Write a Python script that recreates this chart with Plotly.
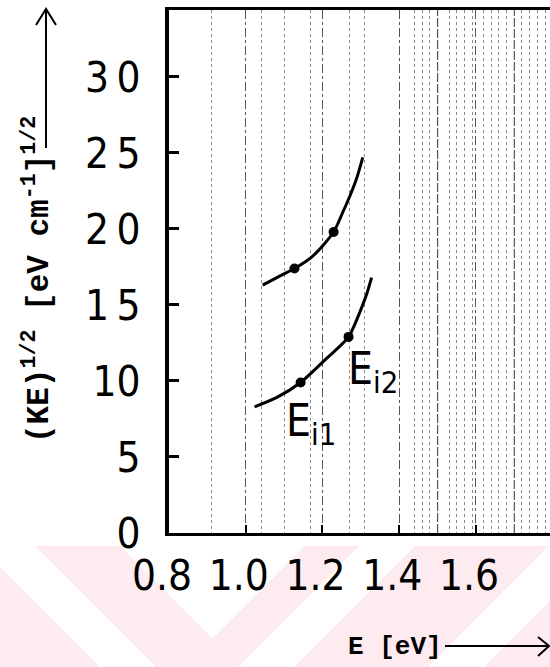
import plotly.graph_objects as go

# --- data: photo-ionisation threshold curves, E [eV] vs (KE)^1/2 ---
upper_e = [1.044, 1.088, 1.127, 1.174, 1.229, 1.253, 1.272, 1.290, 1.305]
upper_k = [16.3, 16.9, 17.4, 18.2, 19.8, 21.1, 22.2, 23.4, 24.7]
lower_e = [1.023, 1.080, 1.143, 1.201, 1.268, 1.297, 1.315, 1.328]
lower_k = [8.3, 8.9, 9.9, 11.25, 12.9, 14.5, 15.7, 16.8]

# measured points marked on each curve
upper_pts_e = [1.127, 1.229]
upper_pts_k = [17.4, 19.8]
lower_pts_e = [1.143, 1.268]
lower_pts_k = [9.9, 12.9]

# curve labels: (text, E, KE^1/2)
curve_labels = [("E<sub>i1</sub>", 1.099, 7.2), ("E<sub>i2</sub>", 1.262, 10.6)]

x_ticks = [0.8, 1.0, 1.2, 1.4, 1.6]
x_tick_text = ["0.8", "1.0", "1.2", "1.4", "1.6"]
y_ticks = [0, 5, 10, 15, 20, 25, 30]
y_tick_text = ["0", "5", "10", "1\u20095", "2\u20090", "2\u20095", "3\u20090"]

# graph-paper rulings
fine_rules = [0.91, 1.04, 1.10, 1.17, 1.27, 1.31, 1.44, 1.46, 1.48, 1.53, 1.55,
              1.57, 1.59, 1.62, 1.64, 1.66, 1.68, 1.72, 1.74, 1.76, 1.78]
heavy_rules = [1.5, 1.7]

X_RANGE = [0.8, 1.793]
Y_RANGE = [0, 34.4]

W, H = 550, 667
L, T, R, B = 169, 10, 550, 533

DIN = "Liberation Sans Narrow, DejaVu Sans Condensed, Arial Narrow, sans-serif"
MONO = "Liberation Mono, Courier New, monospace"


def fx(x):
    return (x - L) / (R - L)


def fy(y):
    return (B - y) / (B - T)


def path(points, close=False):
    s = "M " + " L ".join(f"{fx(x):.5f},{fy(y):.5f}" for x, y in points)
    return s + (" Z" if close else "")


shapes = []

# faint pink watermark band along the bottom of the page
pink = "#fdebef"
shapes.append(dict(type="rect", xref="paper", yref="paper", layer="below",
                   x0=fx(0), x1=fx(W), y0=fy(546), y1=fy(H),
                   fillcolor=pink, line=dict(width=0)))


def diag_down(c1, c2):
    # band between x - y = c1 and x - y = c2, limited to the watermark strip
    return [(546 + c1, 546), (546 + c2, 546), (667 + c2, 667), (667 + c1, 667)]


def diag_up(c1, c2):
    # band between x + y = c1 and x + y = c2
    return [(c1 - 546, 546), (c2 - 546, 546), (c2 - 667, 667), (c1 - 667, 667)]


white_polys = [
    diag_down(-567, -511),
    [(120, 546), (305, 546), (212.5, 638.5)],
    diag_up(905, 961),
    diag_up(1095, 1151),
]
for poly in white_polys:
    shapes.append(dict(type="path", xref="paper", yref="paper", layer="below",
                       path=path(poly, close=True), fillcolor="white",
                       line=dict(width=0)))

# heavier rulings of the graph paper
for xv in heavy_rules:
    shapes.append(dict(type="line", xref="x", yref="paper", layer="below",
                       x0=xv, x1=xv, y0=0, y1=1,
                       line=dict(color="#555", width=1.2, dash="9px,2px")))

# axis arrows
arrow_line = dict(color="black", width=2)
shapes.append(dict(type="path", xref="paper", yref="paper",
                   path=path([(46, 148), (46, 10)]), line=arrow_line))
shapes.append(dict(type="path", xref="paper", yref="paper",
                   path=path([(36, 25), (46, 9), (56, 25)]), line=arrow_line))
shapes.append(dict(type="path", xref="paper", yref="paper",
                   path=path([(445, 646), (548, 646)]), line=arrow_line))
shapes.append(dict(type="path", xref="paper", yref="paper",
                   path=path([(538, 637), (549, 646), (538, 656)]), line=arrow_line))

annotations = []
for text, xv, yv in curve_labels:
    annotations.append(dict(x=xv, y=yv, xref="x", yref="y", text=text, showarrow=False,
                            xanchor="left", yanchor="middle",
                            font=dict(family=DIN, size=44, color="black")))

annotations.append(dict(x=fx(37), y=fy(280), xref="paper", yref="paper",
                        text="(KE)<sup>1/2</sup> [eV cm<sup>-1</sup>]<sup>1/2</sup>",
                        textangle=-90, showarrow=False, xanchor="center", yanchor="middle",
                        font=dict(family=MONO, size=31, color="black", weight="bold")))
annotations.append(dict(x=fx(395), y=fy(647), xref="paper", yref="paper",
                        text="E [eV]", showarrow=False, xanchor="center", yanchor="middle",
                        font=dict(family=MONO, size=26, color="black", weight="bold")))

traces = [
    go.Scatter(x=upper_e, y=upper_k, mode="lines",
               line=dict(color="black", width=3, shape="spline", smoothing=0.8),
               hoverinfo="skip"),
    go.Scatter(x=lower_e, y=lower_k, mode="lines",
               line=dict(color="black", width=3, shape="spline", smoothing=0.7),
               hoverinfo="skip"),
    go.Scatter(x=upper_pts_e + lower_pts_e, y=upper_pts_k + lower_pts_k,
               mode="markers", marker=dict(color="black", size=10),
               hoverinfo="skip"),
]

layout = go.Layout(
    width=W, height=H,
    margin=dict(l=L, r=W - R, t=T, b=H - B, autoexpand=False),
    paper_bgcolor="white", plot_bgcolor="rgba(0,0,0,0)",
    showlegend=False,
    shapes=shapes,
    annotations=annotations,
)

fig = go.Figure(data=traces, layout=layout)

fig.update_xaxes(
    range=X_RANGE, tickmode="array", tickvals=x_ticks, ticktext=x_tick_text,
    ticks="inside", ticklen=8, tickwidth=2, tickcolor="black",
    showline=True, linecolor="black", linewidth=3, mirror=True,
    showgrid=True, gridcolor="#555", gridwidth=1.2, griddash="dashdot",
    minor=dict(tickvals=fine_rules, showgrid=True, gridcolor="#8a8a8a",
               gridwidth=1, griddash="dot", ticks=""),
    tickfont=dict(family=DIN, size=42, color="black"),
    ticklabelshift=-7, ticklabelstandoff=4,
    zeroline=False, fixedrange=True,
)
fig.update_yaxes(
    range=Y_RANGE, tickmode="array", tickvals=y_ticks, ticktext=y_tick_text,
    ticks="inside", ticklen=10, tickwidth=2.5, tickcolor="black",
    showline=True, linecolor="black", linewidth=4,
    showgrid=False, zeroline=False,
    tickfont=dict(family=DIN, size=42, color="black"),
    ticklabelstandoff=16, fixedrange=True,
)

fig.write_html("out.html")
